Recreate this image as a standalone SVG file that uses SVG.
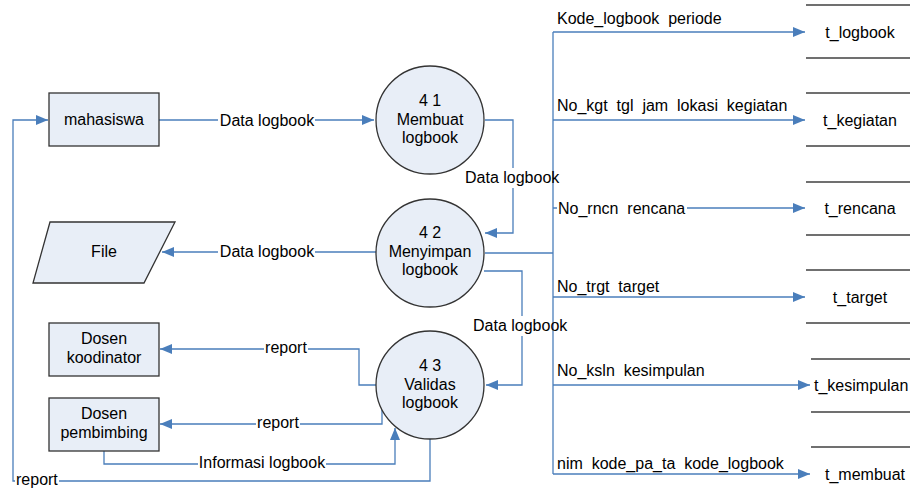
<svg xmlns="http://www.w3.org/2000/svg" width="910" height="499" viewBox="0 0 910 499">
<style>
text{font-family:"Liberation Sans",Arial,sans-serif;font-size:16px;fill:#000;white-space:pre}
.c{text-anchor:middle}
.n{fill:#e8eef7;stroke:#333;stroke-width:1.3}
.l{fill:none;stroke:#4a7ebb;stroke-width:1.3}
.s{stroke:#404040;stroke-width:1.3}
.bg{fill:#fff}
</style>
<defs>
<marker id="a" markerUnits="userSpaceOnUse" markerWidth="13" markerHeight="11" refX="12" refY="5" orient="auto">
<path d="M0,0 L12,5 L0,10 z" fill="#4a7ebb"/>
</marker>
</defs>
<rect width="910" height="499" fill="#fff"/>
<g id="connectors">
<path class="l" d="M159,120 H374" marker-end="url(#a)"/>
<path class="l" d="M485,120 H513 V233 H485" marker-end="url(#a)"/>
<path class="l" d="M376,252 H162" marker-end="url(#a)"/>
<path class="l" d="M484,271 H522 V385 H486" marker-end="url(#a)"/>
<path class="l" d="M485,253 H553"/>
<path class="l" d="M553,32 V474"/>
<path class="l" d="M553,32 H805" marker-end="url(#a)"/>
<path class="l" d="M553,120 H805" marker-end="url(#a)"/>
<path class="l" d="M553,208 H805" marker-end="url(#a)"/>
<path class="l" d="M553,297 H805" marker-end="url(#a)"/>
<path class="l" d="M553,385 H810" marker-end="url(#a)"/>
<path class="l" d="M553,474 H810" marker-end="url(#a)"/>
<path class="l" d="M376,385 H359 V349 H160" marker-end="url(#a)"/>
<path class="l" d="M382,408 V424 H160" marker-end="url(#a)"/>
<path class="l" d="M104,451 V464 H395 V428" marker-end="url(#a)"/>
<path class="l" d="M430,439 V481 H13 V120 H48" marker-end="url(#a)"/>
</g>
<g id="labels">
<rect class="bg" x="218" y="111" width="97" height="19"/>
<text class="c" x="267" y="126">Data logbook</text>
<rect class="bg" x="218" y="242" width="97" height="19"/>
<text class="c" x="267" y="257">Data logbook</text>
<rect class="bg" x="464" y="168" width="86" height="20"/>
<text x="465" y="183">Data logbook</text>
<rect class="bg" x="472" y="316" width="78" height="20"/>
<text x="473" y="331">Data logbook</text>
<rect class="bg" x="264" y="339" width="44" height="19"/>
<text class="c" x="286" y="353">report</text>
<rect class="bg" x="256" y="414" width="44" height="19"/>
<text class="c" x="278" y="428">report</text>
<rect class="bg" x="198" y="454" width="128" height="19"/>
<text class="c" x="262" y="468">Informasi logbook</text>
<rect class="bg" x="15" y="471" width="44" height="19"/>
<text x="16" y="485">report</text>
<text x="557" y="24">Kode_logbook  periode</text>
<text x="557" y="111">No_kgt  tgl  jam  lokasi  kegiatan</text>
<rect class="bg" x="557" y="198" width="130" height="19"/>
<text x="558" y="214">No_rncn  rencana</text>
<text x="557" y="292">No_trgt  target</text>
<text x="557" y="376">No_ksln  kesimpulan</text>
<text x="557" y="469">nim  kode_pa_ta  kode_logbook</text>
</g>
<g id="mahasiswa">
<rect class="n" x="49" y="93" width="110" height="53"/>
<text class="c" x="104" y="125">mahasiswa</text>
</g>
<g id="file">
<polygon class="n" points="50,222 175,222 144,283 33,283"/>
<text class="c" x="104" y="257">File</text>
</g>
<g id="dosen-koodinator">
<rect class="n" x="49" y="323" width="110" height="53"/>
<text class="c" x="104" y="344">Dosen</text>
<text class="c" x="104" y="363">koodinator</text>
</g>
<g id="dosen-pembimbing">
<rect class="n" x="49" y="398" width="110" height="53"/>
<text class="c" x="104" y="419">Dosen</text>
<text class="c" x="104" y="438">pembimbing</text>
</g>
<g id="p41">
<circle class="n" cx="430" cy="120" r="54"/>
<text class="c" x="430" y="106">4 1</text>
<text class="c" x="430" y="125">Membuat</text>
<text class="c" x="430" y="143">logbook</text>
</g>
<g id="p42">
<circle class="n" cx="430" cy="253" r="54"/>
<text class="c" x="430" y="238">4 2</text>
<text class="c" x="430" y="257">Menyimpan</text>
<text class="c" x="430" y="275">logbook</text>
</g>
<g id="p43">
<circle class="n" cx="430" cy="385" r="54"/>
<text class="c" x="430" y="371">4 3</text>
<text class="c" x="430" y="390">Validas</text>
<text class="c" x="430" y="408">logbook</text>
</g>
<g id="t_logbook">
<line class="s" x1="806" y1="5" x2="910" y2="5"/>
<line class="s" x1="806" y1="58" x2="910" y2="58"/>
<text class="c" x="860" y="38">t_logbook</text>
</g>
<g id="t_kegiatan">
<line class="s" x1="806" y1="93" x2="910" y2="93"/>
<line class="s" x1="806" y1="146" x2="910" y2="146"/>
<text class="c" x="860" y="126">t_kegiatan</text>
</g>
<g id="t_rencana">
<line class="s" x1="806" y1="182" x2="910" y2="182"/>
<line class="s" x1="806" y1="235" x2="910" y2="235"/>
<text class="c" x="860" y="214">t_rencana</text>
</g>
<g id="t_target">
<line class="s" x1="806" y1="270" x2="910" y2="270"/>
<line class="s" x1="806" y1="323" x2="910" y2="323"/>
<text class="c" x="860" y="303">t_target</text>
</g>
<g id="t_kesimpulan">
<line class="s" x1="811" y1="359" x2="910" y2="359"/>
<line class="s" x1="811" y1="412" x2="910" y2="412"/>
<text x="814" y="391">t_kesimpulan</text>
</g>
<g id="t_membuat">
<line class="s" x1="811" y1="447" x2="910" y2="447"/>
<text x="825" y="480">t_membuat</text>
</g>
</svg>
